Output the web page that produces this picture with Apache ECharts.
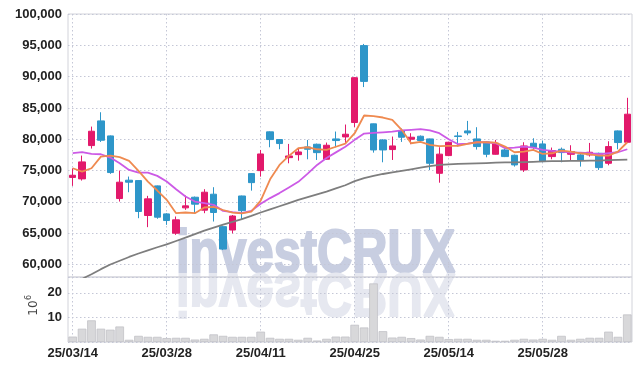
<!DOCTYPE html>
<html><head><meta charset="utf-8">
<script src="https://cdn.jsdelivr.net/npm/echarts@6/dist/echarts.min.js"></script>
<style>html,body{margin:0;padding:0;background:#fff}#c{width:642px;height:371px}</style>
</head><body><div id="c"></div>
<script>
const dates = ['25/03/14','25/03/17','25/03/18','25/03/19','25/03/20','25/03/21','25/03/24','25/03/25','25/03/26','25/03/27',
'25/03/28','25/03/31','25/04/01','25/04/02','25/04/03','25/04/04','25/04/07','25/04/08','25/04/09','25/04/10',
'25/04/11','25/04/14','25/04/15','25/04/16','25/04/17','25/04/18','25/04/21','25/04/22','25/04/23','25/04/24',
'25/04/25','25/04/28','25/04/29','25/04/30','25/05/02','25/05/07','25/05/08','25/05/09','25/05/12','25/05/13',
'25/05/14','25/05/15','25/05/16','25/05/19','25/05/20','25/05/21','25/05/22','25/05/23','25/05/26','25/05/27',
'25/05/28','25/05/29','25/05/30','25/06/02','25/06/04','25/06/05','25/06/09','25/06/10','25/06/11','25/06/12'];
const openP  = [73900,73670,78990,82930,80530,70530,73460,73400,67820,72550,68080,65000,69040,70740,68670,71220,66040,65500,70940,74510,
74990,81180,79950,77060,77540,78770,79200,76800,80050,80370,82670,94950,82460,79890,78350,81390,80000,80480,80050,74560,
77390,80530,81330,80050,79570,77600,78290,77440,75100,79360,79250,77230,78400,77600,77500,77500,77760,76160,81330,79520];
const closeP = [74250,76380,81280,79840,74680,73140,73140,68460,70480,67550,67020,67130,69360,69630,71540,68300,62460,67740,68590,73070,
77650,79950,79310,77330,77970,78400,77860,79040,79790,80800,89830,89240,78290,78290,78930,80320,80320,79790,76160,77620,
79520,80430,81010,78830,77600,79360,77230,75900,78930,78670,76430,78190,77870,78030,76700,77920,75470,78830,79470,84000];
const lowP   = [72550,73400,78510,79570,74470,70050,71540,67390,65960,67300,66330,64730,68720,68190,68190,66860,62300,64970,67210,71790,
74030,78720,78400,76160,76580,76800,76690,76750,78720,79360,81920,88330,77860,76320,76690,79570,79200,79600,75090,73060,
77300,78830,80640,78350,77120,77550,77150,75630,74780,78140,76350,76800,76320,76540,75630,77230,75100,75840,78400,79400];
const highP  = [75350,77390,82020,84310,80600,75000,74040,73450,70960,72600,68200,67660,71010,70850,72020,72340,66200,67900,71000,74600,
78290,81250,80000,79250,78510,79890,79300,79470,81230,82350,89900,95220,82500,80000,80430,81710,80960,80600,80100,78720,
79600,81170,82930,81920,79700,79890,78510,77550,79520,80160,79790,78670,78670,79040,77700,79410,77850,79680,81400,86620];
const volume = [2.2,5.4,8.8,5.4,5.0,6.3,0.9,2.5,2.1,2.1,1.6,1.7,1.7,1.0,1.3,3.1,2.5,2.1,2.1,2.1,
4.2,1.7,1.3,1.3,0.9,1.7,0.6,1.3,2.2,2.2,7.0,5.9,23.8,4.4,1.8,2.1,1.6,1.0,2.5,2.1,
1.2,1.3,1.3,0.9,0.9,0.5,0.5,0.9,1.3,1.0,1.3,0.9,2.5,0.9,1.3,1.7,1.7,4.2,2.1,11.2];
const maShort = [75370,74840,75370,77230,77390,77130,76540,74950,73240,71810,70320,68190,68300,68190,69100,69200,68700,68270,68170,68430,
70200,73600,75900,77350,78560,78720,78400,78300,78800,79300,80960,83790,83680,83470,83100,81500,79360,79570,79090,78900,
78930,78930,79250,79520,79520,79470,78830,77920,78030,78300,77650,77760,78190,78030,77760,77600,77390,77390,78030,79520];
const maMid = [77770,77930,77660,77600,77070,76170,75100,74680,74680,74150,73240,72020,70850,70050,69790,69520,68560,68350,68190,68560,
69700,70600,71400,72300,73200,74500,75900,77000,77900,78800,79900,80900,81000,81100,81200,81400,81500,81600,81400,80960,
80000,79200,79300,79520,79520,79360,78560,78670,78830,78670,78300,78130,78030,77870,77870,77760,77600,77760,77920,78400];
const maLong = [56900,57700,58450,59250,60000,60600,61200,61750,62250,62750,63200,63750,64300,64850,65400,65900,66350,66800,67250,67750,
68300,68800,69300,69800,70300,70750,71200,71650,72150,72650,73300,73800,74150,74450,74700,74950,75200,75450,75700,75900,
76000,76050,76100,76150,76200,76250,76300,76300,76350,76400,76450,76500,76500,76550,76550,76600,76600,76650,76700,76750];
const priceTicks = [60000,65000,70000,75000,80000,85000,90000,95000,100000];
const volumeTicks = [10,20];

const UP = '#e2196b', DOWN = '#2e96c9';
const labelFont = {color:'#222', fontFamily:'"Liberation Sans",Arial,sans-serif', fontWeight:'bold', fontSize:13};
const grid1 = {left:68, right:10, top:14, height:263, show:true, borderColor:'#d2d3da', borderWidth:1};
const grid2 = {left:68, right:10, top:277, height:65, show:true, borderColor:'#d2d3da', borderWidth:1};
const dotted = {show:true, lineStyle:{color:'#c4c7d6', type:[1.5,2.5], width:1}};

const candleData = dates.map((d,i)=>[openP[i],closeP[i],lowP[i],highP[i]]);

const chart = echarts.init(document.getElementById('c'), null, {renderer:'canvas'});
chart.setOption({
  animation:false,
  backgroundColor:'#fff',
  grid:[grid1, grid2],
  xAxis:[
    {type:'category', gridIndex:0, data:dates, boundaryGap:true,
     axisLine:{show:false}, axisTick:{show:false}, axisLabel:{show:false},
     splitLine:Object.assign({interval:9, alignWithLabel:true}, dotted)},
    {type:'category', gridIndex:1, data:dates, boundaryGap:true,
     axisLine:{show:false}, axisTick:{show:false},
     axisLabel:Object.assign({interval:9, margin:5}, labelFont),
     splitLine:Object.assign({interval:9, alignWithLabel:true}, dotted)}
  ],
  yAxis:[
    {type:'value', gridIndex:0, min:58000, max:100000, minInterval:5000, maxInterval:5000,
     axisLine:{show:false}, axisTick:{show:false},
     axisLabel:Object.assign({margin:6, formatter:v=>priceTicks.includes(v)?v.toLocaleString('en-US'):''}, labelFont),
     splitLine:dotted},
    {type:'value', gridIndex:1, min:0, max:26.4, interval:10,
     axisLine:{show:false}, axisTick:{show:false},
     axisLabel:Object.assign({margin:6, formatter:v=>volumeTicks.includes(v)?String(v):''}, labelFont),
     splitLine:dotted}
  ],
  graphic:[
    {type:'text', z:-1, x:176, y:286, scaleX:0.8,
     style:{text:'investCRUX', font:'bold 61px "Liberation Sans"', fill:'#c8cee1', stroke:'#c8cee1', lineWidth:2, verticalAlign:'bottom'}},
    {type:'text', z:-1, x:176, y:260, scaleX:0.8, scaleY:-1,
     style:{text:'investCRUX', font:'bold 61px "Liberation Sans"', fill:'#e6e8f0', stroke:'#e6e8f0', lineWidth:2, verticalAlign:'bottom'}},
    {type:'text', x:34, y:308, rotation:Math.PI/2,
     style:{text:'10', font:'12px "DejaVu Sans"', fill:'#444', align:'center', verticalAlign:'middle'}},
    {type:'text', x:29, y:297.5, rotation:Math.PI/2,
     style:{text:'6', font:'8px "DejaVu Sans"', fill:'#444', align:'center', verticalAlign:'middle'}}
  ],
  series:[
    {type:'candlestick', xAxisIndex:0, yAxisIndex:0, data:candleData, barWidth:7,
     itemStyle:{color:UP, color0:DOWN, borderColor:UP, borderColor0:DOWN, borderWidth:1}},
    {type:'line', xAxisIndex:0, yAxisIndex:0, data:maLong, symbol:'none', clip:true,
     lineStyle:{color:'#7e7e7e', width:1.8}},
    {type:'line', xAxisIndex:0, yAxisIndex:0, data:maMid, symbol:'none',
     lineStyle:{color:'#cc5ae6', width:1.8}},
    {type:'line', xAxisIndex:0, yAxisIndex:0, data:maShort, symbol:'none',
     lineStyle:{color:'#ef8a50', width:1.8}},
    {type:'bar', xAxisIndex:1, yAxisIndex:1, data:volume, barCategoryGap:'8%',
     itemStyle:{color:'#d8d8da', borderColor:'#c2c2c6', borderWidth:0.8}}
  ]
});
</script></body></html>
